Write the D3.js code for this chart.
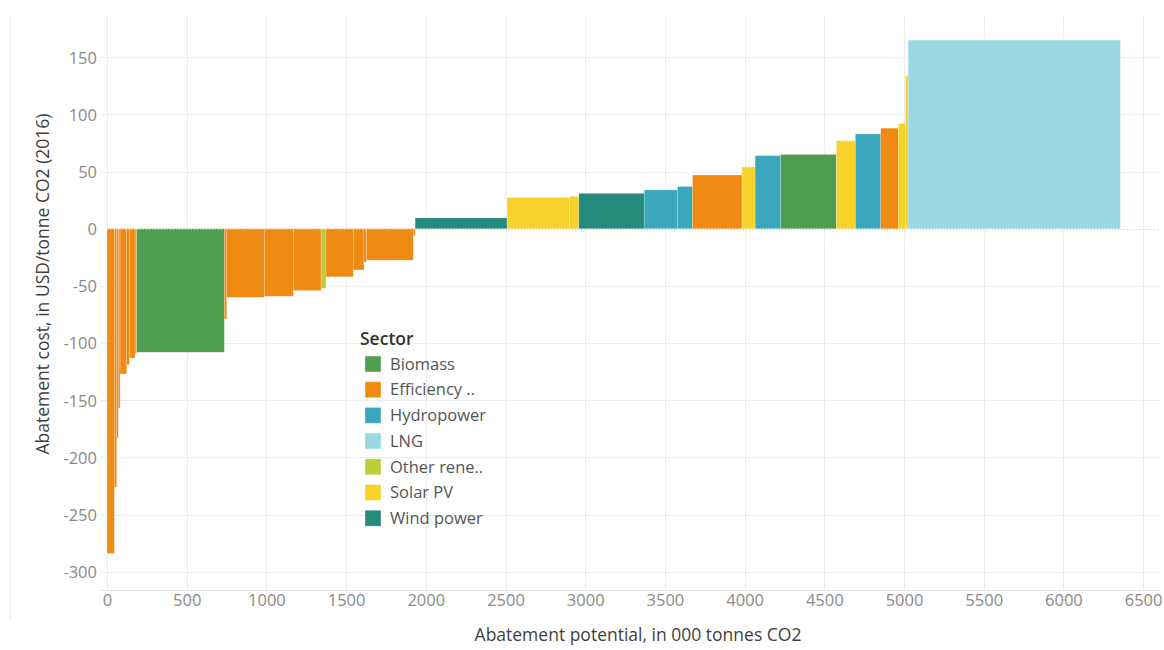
<!DOCTYPE html>
<html><head><meta charset="utf-8">
<script src="https://cdn.jsdelivr.net/npm/d3@7"></script>
<style>body{margin:0;background:#fff;} svg{display:block;}</style>
</head><body>
<svg id="chart" width="1164" height="650"></svg>
<script>
// Data (sorted by abatement cost)
const sectors = ["Efficiency","Efficiency","Efficiency","Efficiency","Efficiency","Efficiency","Efficiency","Efficiency","Biomass","Efficiency","Efficiency","Efficiency","Efficiency","Other rene..","Efficiency","Efficiency","Efficiency","Efficiency","Efficiency","Wind power","Solar PV","Solar PV","Wind power","Hydropower","Hydropower","Efficiency","Solar PV","Hydropower","Biomass","Solar PV","Hydropower","Efficiency","Solar PV","Solar PV","LNG"];
const potentials = [46,15,10,11,42,16,36,10,550,15,236,182,174,31,171,67,17,292,12,577,393,57,410,209,94,311,82,161,349,119,159,110,45,17,1331];
const costs = [-284,-226,-183,-157,-127,-119,-113,-109,-108,-79,-60,-59,-54,-52,-42,-36,-29,-27.5,-6,9.5,27.3,28.4,31,34,37,47,54,64,65,77,83,88,92,134,165];
const legendNames = ["Biomass","Efficiency ..","Hydropower","LNG","Other rene..","Solar PV","Wind power"];
const legendKeys = ["Biomass","Efficiency","Hydropower","LNG","Other rene..","Solar PV","Wind power"];
const sectorColors = ["#4f9e50","#ef8a12","#3ba7bd","#9ad8e3","#bccf3b","#f6d22a","#248a7c"];
const xTicks = [0,500,1000,1500,2000,2500,3000,3500,4000,4500,5000,5500,6000,6500];
const yTicks = [150,100,50,0,-50,-100,-150,-200,-250,-300];

const svg = d3.select("#chart");
const font = "'Open Sans', 'DejaVu Sans', sans-serif";
const pL = 100, pR = 1160, pT = 15, pB = 590;
const x = d3.scaleLinear().domain([-44, 6606]).range([pL, pR]);
const y = d3.scaleLinear().domain([187, -316]).range([pT, pB]);
const color = d3.scaleOrdinal().domain(legendKeys).range(sectorColors);

// frame line at left
svg.append("line").attr("x1",10.5).attr("x2",10.5).attr("y1",15).attr("y2",620).attr("stroke","#ececec");

// grid
const g = svg.append("g");
g.selectAll(".vg").data(xTicks).join("line")
  .attr("x1",d=>Math.round(x(d))+0.5).attr("x2",d=>Math.round(x(d))+0.5)
  .attr("y1",pT).attr("y2",pB).attr("stroke","#ededed");
g.selectAll(".hg").data(yTicks.filter(d=>d!==0)).join("line")
  .attr("x1",pL).attr("x2",pR)
  .attr("y1",d=>Math.round(y(d))+0.5).attr("y2",d=>Math.round(y(d))+0.5).attr("stroke","#ededed");
g.append("line").attr("x1",pL).attr("x2",pR).attr("y1",pB+0.5).attr("y2",pB+0.5).attr("stroke","#e4e4e4");

// bars
const data = costs.map((c,i)=>({sector:sectors[i], w:potentials[i], c}));
let cum = 0;
data.forEach(d=>{d.x0=cum; cum+=d.w; d.x1=cum;});
svg.append("g").selectAll("rect").data(data).join("rect")
  .attr("x",d=>x(d.x0)).attr("width",d=>x(d.x1)-x(d.x0))
  .attr("y",d=>Math.min(y(d.c),y(0))).attr("height",d=>Math.abs(y(d.c)-y(0)))
  .attr("fill",d=>color(d.sector))
  .attr("stroke","#ffffff").attr("stroke-opacity",0.35).attr("stroke-width",0.6);

// zero line (dotted)
svg.append("line").attr("x1",x(0)).attr("x2",pR).attr("y1",Math.round(y(0))+0.5).attr("y2",Math.round(y(0))+0.5)
  .attr("stroke","#c8c8c8").attr("stroke-dasharray","1,2");

// axes
const yAxis = d3.axisLeft(y).tickValues(yTicks).tickSize(0).tickPadding(0).tickFormat(d=>String(d));
const ya = svg.append("g").attr("transform",`translate(97,0)`).call(yAxis);
ya.select(".domain").remove();
ya.selectAll("text").attr("font-family",font).attr("font-size",16.5).attr("fill","#8a8a8a").attr("dy","0.35em");

const xAxis = d3.axisBottom(x).tickValues(xTicks).tickSize(0).tickPadding(0).tickFormat(d=>String(d));
const xa = svg.append("g").attr("transform",`translate(0,594)`).call(xAxis);
xa.select(".domain").remove();
xa.selectAll("text").attr("font-family",font).attr("font-size",16.5).attr("fill","#8a8a8a").attr("dy","0.75em");

// axis titles
svg.append("text").attr("x",638).attr("y",641).attr("text-anchor","middle")
  .attr("font-family",font).attr("font-size",17.5).attr("fill","#3f3f3f")
  .text("Abatement potential, in 000 tonnes CO2");
svg.append("text").attr("transform","translate(49,284) rotate(-90)").attr("text-anchor","middle")
  .attr("font-family",font).attr("font-size",17.5).attr("fill","#3f3f3f")
  .text("Abatement cost, in USD/tonne CO2 (2016)");

// legend
const lg = svg.append("g");
lg.append("text").attr("x",360).attr("y",345).attr("font-family",font).attr("font-size",17.5)
  .attr("font-weight",600).attr("fill","#333").text("Sector");
const rows = lg.selectAll(".row").data(legendNames).join("g")
  .attr("transform",(d,i)=>`translate(365,${356+i*25.7})`);
rows.append("rect").attr("width",16).attr("height",16)
  .attr("fill",(d,i)=>sectorColors[i]).attr("stroke","#ffffff").attr("stroke-opacity",0.4);
rows.append("text").attr("x",25).attr("y",8).attr("dy","0.35em")
  .attr("font-family",font).attr("font-size",16.5).attr("fill","#555").text(d=>d);
</script>
</body></html>
